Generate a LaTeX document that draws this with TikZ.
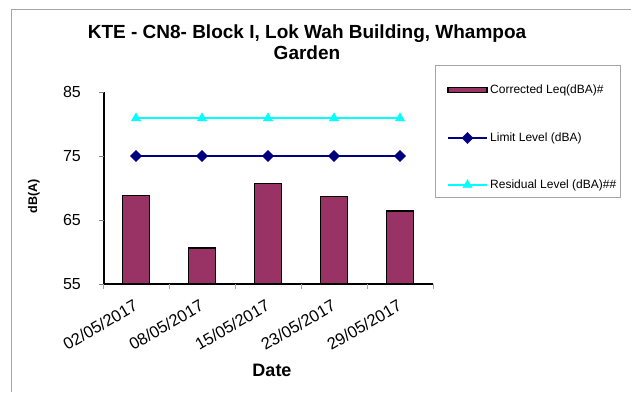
\documentclass[tikz,border=0pt]{standalone}
\usepackage{fontspec}
\setmainfont{Liberation Sans}
\usetikzlibrary{plotmarks}

\definecolor{plum}{RGB}{153,51,102}
\definecolor{limitblue}{RGB}{0,0,128}
\definecolor{resid}{RGB}{0,255,255}
\definecolor{framegray}{RGB}{165,165,165}

\tikzset{
  bar/.style={draw=black,fill=plum,line width=1.5pt},
  limitline/.style={limitblue,line width=1.8pt},
  limitmark/.style={mark=square*,mark size=4pt,mark options={limitblue,fill=limitblue,rotate=45,line width=0.4pt}},
  residline/.style={resid,line width=2.4pt},
  residmark/.style={mark=triangle*,mark size=5.4pt,mark options={resid,fill=resid,line width=0.4pt}},
  legtext/.style={anchor=west,inner sep=0pt,font=\fontsize{12}{14}\selectfont}
}

\begin{document}
\begin{tikzpicture}[x=1pt,y=1pt]
  \useasboundingbox (0,0) rectangle (631,392);
  \draw[framegray,line width=1pt] (11,0) -- (11,382.5) -- (631,382.5);

  \node[font=\fontsize{19}{21}\selectfont\bfseries,align=center] (title) at (307,349.5)
    {KTE - CN8- Block I, Lok Wah Building, Whampoa\\Garden};

  \begin{scope}[shift={(103pt,-244pt)},x=66pt,y=6.4pt]
    % bars
    \foreach \v [count=\i] in {68.8,60.6,70.7,68.7,66.4}
      \draw[bar] (\i-0.7045,55) rectangle (\i-0.2955,\v);

    % axes
    \draw[line width=1.2pt] (1pt,85) -- (1pt,55) -- (5,55);
    \foreach \t in {55,65,75,85} {
      \draw[gray,line width=0.8pt] (-4pt,\t) -- (1pt,\t);
      \node[anchor=east,inner sep=0pt,font=\fontsize{16}{18}\selectfont] (tick\t) at (-22pt,\t) {\t};
    }
    \foreach \i in {0,...,5}
      \draw[gray!70,line width=0.8pt] (\i,55) -- ++(0,-5pt);

    % limit and residual levels
    \draw[limitline,limitmark] plot coordinates {(0.5,75) (1.5,75) (2.5,75) (3.5,75) (4.5,75)};
    \draw[residline,residmark] plot coordinates {(0.5,80.9) (1.5,80.9) (2.5,80.9) (3.5,80.9) (4.5,80.9)};

    % dates
    \foreach \d [count=\i] in {{02/05/2017},{08/05/2017},{15/05/2017},{23/05/2017},{29/05/2017}}
      \node[anchor=north east,rotate=30,inner sep=0pt,font=\fontsize{16.5}{18}\selectfont] (date\i) at (\i-0.545,52.7) {\d};
  \end{scope}

  \node[rotate=90,font=\fontsize{12.5}{15}\selectfont\bfseries] (ylab) at (34,196) {dB(A)};
  \node[font=\fontsize{18}{20}\selectfont\bfseries] (xlab) at (272,22) {Date};

  % legend
  \draw[framegray,line width=0.8pt] (435,195) rectangle (620,327);
  \draw[bar,line width=1.2pt] (448,299.6) rectangle (487,304.2);
  \node[legtext] (legbar) at (490,302) {Corrected Leq(dBA)\#};
  \draw[limitline] (448,254) -- (487,254);
  \draw[limitline,limitmark,only marks] plot coordinates {(467.5,254)};
  \node[legtext] (leglimit) at (490,254) {Limit Level (dBA)};
  \draw[residline] (448,207) -- (487,207);
  \draw[residline,residmark,only marks] plot coordinates {(467.5,207)};
  \node[legtext] (legresid) at (490,207) {Residual Level (dBA)\#\#};
\end{tikzpicture}
\end{document}
